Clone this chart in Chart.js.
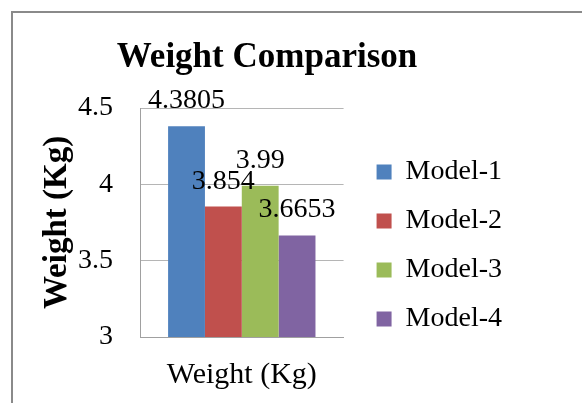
<!DOCTYPE html>
<html>
<head>
<meta charset="utf-8">
<script src="https://cdn.jsdelivr.net/npm/chart.js@4"></script>
<style>
  body { margin: 0; background: #fff; overflow: hidden; }
  #frame { position: absolute; left: 11px; top: 11px; width: 620px; height: 440px; border: 2px solid #8a8a8a; }
  #wrap { position: absolute; left: 0; top: 0; width: 582px; height: 403px; }
</style>
</head>
<body>
<div id="frame"></div>
<div id="wrap"><canvas id="weightChart" width="582" height="403"></canvas></div>
<script>
// chart data
const categories = ['Weight (Kg)'];
const modelNames = ['Model-1', 'Model-2', 'Model-3', 'Model-4'];
const modelWeights = [4.3805, 3.854, 3.99, 3.6653];
const modelColors = ['#4F81BD', '#C0504D', '#9BBB59', '#8064A2'];
const yTicks = [3, 3.5, 4, 4.5];

const serif = 'Liberation Serif, Times New Roman, serif';

// draws the value above each bar, like excel data labels
const valueLabels = {
    id: 'valueLabels',
    afterDatasetsDraw(chart) {
        const ctx = chart.ctx;
        ctx.save();
        ctx.font = '28px ' + serif;
        ctx.fillStyle = '#000';
        ctx.textAlign = 'center';
        ctx.textBaseline = 'alphabetic';
        chart.data.datasets.forEach((ds, i) => {
            const bar = chart.getDatasetMeta(i).data[0];
            ctx.fillText(String(ds.data[0]), bar.x, bar.y - 18);
        });
        ctx.restore();
    }
};

const ctx = document.getElementById('weightChart').getContext('2d');

const weightChart = new Chart(ctx, {
    type: 'bar',
    data: {
        labels: categories,
        datasets: modelNames.map((name, i) => ({
            label: name,
            data: [modelWeights[i]],
            backgroundColor: modelColors[i],
            borderWidth: 0,
            categoryPercentage: 0.724,
            barPercentage: 1.0,
            yAxisID: 'y'
        }))
    },
    options: {
        responsive: false,
        animation: false,
        layout: {
            padding: { left: 22, right: 70, top: 37, bottom: 0 }
        },
        plugins: {
            title: {
                display: true,
                text: 'Weight Comparison',
                color: '#000',
                font: { family: serif, size: 35, weight: 'bold' },
                padding: { top: 0, bottom: 29 }
            },
            legend: {
                position: 'right',
                align: 'start',
                maxWidth: 300,
                title: { display: true, text: '', font: { size: 10 }, padding: { top: 88, bottom: 0 } },
                labels: {
                    color: '#000',
                    font: { family: serif, size: 28 },
                    boxWidth: 15,
                    boxHeight: 15,
                    padding: 21
                }
            },
            tooltip: { enabled: false }
        },
        scales: {
            x: {
                grid: { display: false, drawTicks: false },
                border: { display: true, color: '#a0a0a0', width: 1 },
                ticks: {
                    color: '#000',
                    font: { family: serif, size: 30 },
                    padding: 20
                },
                afterFit: (scale) => { scale.height = 66; }
            },
            y: {
                min: 3,
                max: 4.5,
                afterBuildTicks: (scale) => {
                    scale.ticks = yTicks.map(v => ({ value: v }));
                },
                grid: { color: '#b5b5b5', lineWidth: 1, drawTicks: false },
                border: { display: true, color: '#a0a0a0', width: 1 },
                ticks: {
                    color: '#000',
                    font: { family: serif, size: 28 },
                    padding: 27,
                    callback: (v) => String(v)
                },
                title: {
                    display: true,
                    text: 'Weight (Kg)',
                    color: '#000',
                    font: { family: serif, size: 33, weight: 'bold' },
                    padding: { top: 16, bottom: 0 }
                },
                afterFit: (scale) => { scale.width = 118; }
            },
            // empty right axis, only keeps the gap between plot and legend
            yr: {
                type: 'linear',
                position: 'right',
                grid: { display: false, drawTicks: false },
                border: { display: false },
                ticks: { display: false },
                afterFit: (scale) => { scale.width = 12; }
            }
        }
    },
    plugins: [valueLabels]
});
</script>
</body>
</html>
